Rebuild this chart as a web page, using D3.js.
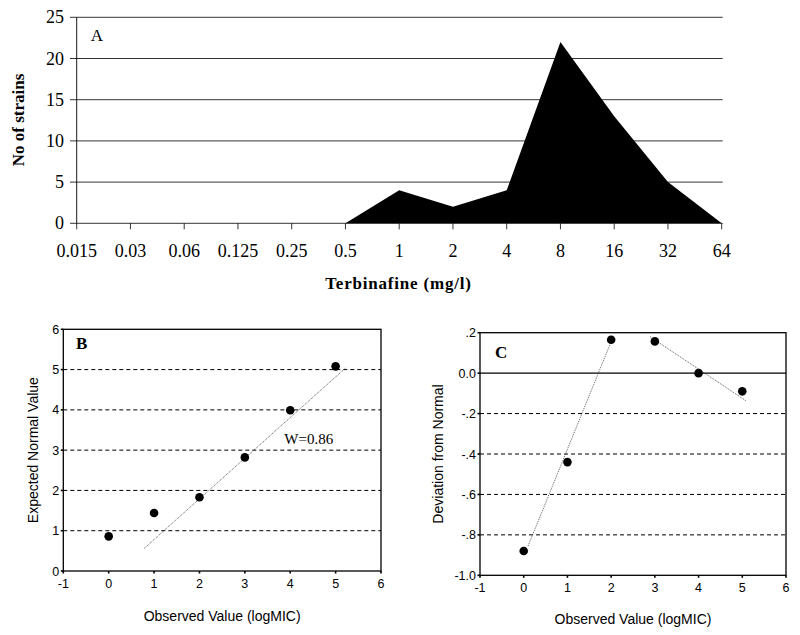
<!DOCTYPE html>
<html><head><meta charset="utf-8">
<script src="https://cdn.jsdelivr.net/npm/d3@7"></script>
<style>body{margin:0;background:#fff}svg{display:block}</style>
</head><body>
<svg id="c" width="800" height="635"></svg>
<script>
// Panel A data
const concLabels = ["0.015","0.03","0.06","0.125","0.25","0.5","1","2","4","8","16","32","64"];
const strainCounts = [0,0,0,0,0,0,4,2,4,22,13,5,0];
const yTicksA = [0,5,10,15,20,25];
// Panel B data
const obsB = [0,1,2,3,4,5];
const expectedB = [0.86,1.44,1.83,2.82,3.99,5.08];
const fitB = [[0.78,0.56],[5.22,5.04]];
// Panel C data
const obsC = [0,1,2,3,4,5];
const deviationC = [-0.88,-0.44,0.165,0.157,0.0,-0.09];
const fitC1 = [[0.1,-0.855],[1.99,0.15]];
const fitC2 = [[2.89,0.18],[5.08,-0.136]];
const xTicksBC = [-1,0,1,2,3,4,5,6];
const yTicksB = [0,1,2,3,4,5,6];
const yTicksC = [-1.0,-0.8,-0.6,-0.4,-0.2,0.0,0.2];
const yLabelsC = ["-1.0","-.8","-.6","-.4","-.2","0.0",".2"];

const svg = d3.select("#c");
const serif = "'Liberation Serif', 'Times New Roman', serif";
const sans = "'Liberation Sans', Arial, sans-serif";

// ---------- Panel A ----------
{
  const x = d3.scalePoint().domain(concLabels).range([76.7, 721.7]);
  const y = d3.scaleLinear().domain([0,25]).range([223.3, 17.3]);
  const g = svg.append("g");
  g.selectAll("line.grid").data(yTicksA).join("line")
    .attr("x1", 70).attr("x2", 722.7)
    .attr("y1", d=>y(d)).attr("y2", d=>y(d))
    .attr("stroke", "#000").attr("stroke-width", 0.8);
  const area = d3.area().x((d,i)=>x(concLabels[i])).y0(y(0)).y1(d=>y(d));
  g.append("path").datum(strainCounts).attr("d", area).attr("fill", "#000");
  g.append("line").attr("x1",76.7).attr("x2",76.7).attr("y1",y(25)).attr("y2",y(0))
    .attr("stroke","#000").attr("stroke-width",0.9);
  g.selectAll("line.xt").data(concLabels).join("line")
    .attr("x1", d=>x(d)).attr("x2", d=>x(d)).attr("y1", y(0)).attr("y2", y(0)+6)
    .attr("stroke","#000").attr("stroke-width",0.8);
  g.selectAll("text.xl").data(concLabels).join("text")
    .attr("x", d=>x(d)).attr("y", 257).attr("text-anchor","middle")
    .attr("font-family", serif).attr("font-size", 18).text(d=>d);
  g.selectAll("text.yl").data(yTicksA).join("text")
    .attr("x", 64).attr("y", d=>y(d)+6).attr("text-anchor","end")
    .attr("font-family", serif).attr("font-size", 18).text(d=>d);
  g.append("text").attr("transform","translate(24,120) rotate(-90)")
    .attr("text-anchor","middle").attr("font-family", serif).attr("font-weight","bold")
    .attr("font-size", 17).text("No of strains");
  g.append("text").attr("x", 398.5).attr("y", 289).attr("text-anchor","middle")
    .attr("font-family", serif).attr("font-weight","bold").attr("font-size", 17)
    .attr("letter-spacing", 0.8).text("Terbinafine (mg/l)");
  g.append("text").attr("x", 97).attr("y", 41).attr("text-anchor","middle")
    .attr("font-family", serif).attr("font-size", 17).text("A");
}

function scatterPanel(opts) {
  const g = svg.append("g");
  const x = d3.scaleLinear().domain([-1,6]).range([opts.left, opts.right]);
  const y = d3.scaleLinear().domain(opts.yDomain).range([opts.bottom, opts.top]);
  g.selectAll("line.dg").data(opts.dashed).join("line")
    .attr("x1", opts.left).attr("x2", opts.right)
    .attr("y1", d=>y(d)).attr("y2", d=>y(d))
    .attr("stroke","#000").attr("stroke-width",1).attr("stroke-dasharray","4,3");
  (opts.solid||[]).forEach(v=>{
    g.append("line").attr("x1",opts.left).attr("x2",opts.right)
      .attr("y1",y(v)).attr("y2",y(v)).attr("stroke","#000").attr("stroke-width",1.2);
  });
  g.append("rect").attr("x",opts.left).attr("y",opts.top)
    .attr("width",opts.right-opts.left).attr("height",opts.bottom-opts.top)
    .attr("fill","none").attr("stroke","#000").attr("stroke-width",1.3);
  g.selectAll("line.xt").data(xTicksBC).join("line")
    .attr("x1",d=>x(d)).attr("x2",d=>x(d)).attr("y1",opts.bottom).attr("y2",opts.bottom+2.5)
    .attr("stroke","#000").attr("stroke-width",1.6);
  g.selectAll("line.yt").data(opts.yTicks).join("line")
    .attr("x1",opts.left-2.5).attr("x2",opts.left).attr("y1",d=>y(d)).attr("y2",d=>y(d))
    .attr("stroke","#000").attr("stroke-width",1.6);
  g.selectAll("text.xl").data(xTicksBC).join("text")
    .attr("x",d=>x(d)).attr("y",opts.bottom+17).attr("text-anchor","middle")
    .attr("font-family",sans).attr("font-size",12.5).text(d=>d);
  g.selectAll("text.yl").data(opts.yTicks).join("text")
    .attr("x",opts.left-4).attr("y",d=>y(d)+4.5).attr("text-anchor","end")
    .attr("font-family",sans).attr("font-size",12.5).text((d,i)=>opts.yLabels[i]);
  opts.fits.forEach(f=>{
    g.append("line").attr("x1",x(f[0][0])).attr("y1",y(f[0][1]))
      .attr("x2",x(f[1][0])).attr("y2",y(f[1][1]))
      .attr("stroke","#333").attr("stroke-width",0.8).attr("stroke-dasharray","1,1");
  });
  g.selectAll("circle").data(opts.xs).join("circle")
    .attr("cx",d=>x(d)).attr("cy",(d,i)=>y(opts.ys[i])).attr("r",4.3).attr("fill","#000");
  g.append("text").attr("transform",`translate(${opts.yTitleX},${(opts.top+opts.bottom)/2}) rotate(-90)`)
    .attr("text-anchor","middle").attr("font-family",sans).attr("font-size",14).text(opts.yTitle);
  g.append("text").attr("x",(opts.left+opts.right)/2).attr("y",opts.titleY)
    .attr("text-anchor","middle").attr("font-family",sans).attr("font-size",14).text("Observed Value (logMIC)");
  g.append("text").attr("x",opts.tagX).attr("y",opts.tagY).attr("font-family",serif)
    .attr("font-weight","bold").attr("font-size",17).text(opts.tag);
  return {g,x,y};
}

const B = scatterPanel({
  left:63.3, right:381, top:329.3, bottom:571, yDomain:[0,6],
  dashed:[1,2,3,4,5], yTicks:yTicksB, yLabels:yTicksB.map(String),
  fits:[fitB], xs:obsB, ys:expectedB, yTitle:"Expected Normal Value", yTitleX:38,
  tag:"B", tagX:76, tagY:349, titleY:621
});
B.g.append("text").attr("x",B.x(3.87)).attr("y",B.y(3.0)-6).attr("font-family",serif)
  .attr("font-size",15).text("W=0.86");

scatterPanel({
  left:480, right:786, top:332.7, bottom:575.3, yDomain:[-1.0,0.2],
  dashed:[-0.8,-0.6,-0.4,-0.2], solid:[0.0], yTicks:yTicksC, yLabels:yLabelsC,
  fits:[fitC1,fitC2], xs:obsC, ys:deviationC, yTitle:"Deviation from Normal", yTitleX:443,
  tag:"C", tagX:495, tagY:358, titleY:624
});
</script>
</body></html>
